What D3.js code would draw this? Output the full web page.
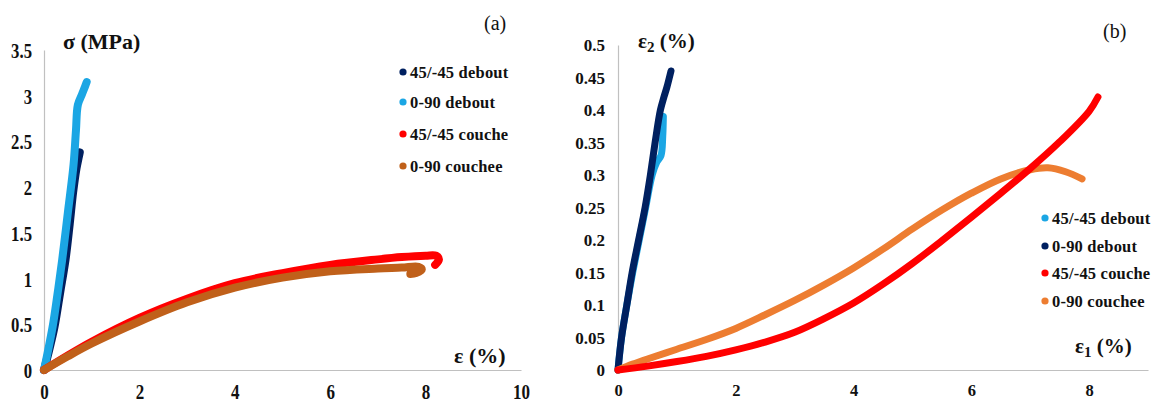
<!DOCTYPE html>
<html><head><meta charset="utf-8">
<script src="https://cdn.jsdelivr.net/npm/d3@7"></script>
<style>
body{margin:0;background:#fff;}
svg{display:block;}
text{font-family:"Liberation Serif","Times New Roman",serif;}
</style></head><body>
<svg id="c" width="1153" height="403"></svg>
<script>
// ---- data: panel (a) stress-strain ----
const aDebout4545 = [[0,0],[0.1,0.2],[0.22,0.47],[0.34,0.85],[0.45,1.2],[0.54,1.6],[0.61,1.94],[0.68,2.2],[0.73,2.33],[0.75,2.38]];
const aDebout090  = [[0,0],[0.08,0.2],[0.18,0.47],[0.28,0.82],[0.38,1.2],[0.5,1.72],[0.62,2.25],[0.67,2.62],[0.71,2.9],[0.8,3.02],[0.86,3.1],[0.895,3.15]];
const aCouche4545 = [[0,0],[0.5,0.16],[1,0.31],[2,0.57],[3,0.78],[4,0.95],[5,1.06],[6,1.15],[7,1.21],[7.5,1.235],[8,1.25],[8.22,1.25],[8.28,1.21],[8.2,1.15]];
const aCouchee090 = [[0,0],[0.5,0.15],[1,0.29],[2,0.53],[3,0.74],[4,0.9],[5,1.01],[6,1.08],[7,1.11],[7.5,1.12],[7.85,1.13],[7.92,1.1],[7.8,1.06],[7.68,1.05]];
// ---- data: panel (b) transverse vs axial strain ----
const bDebout4545 = [[0,0],[0.06,0.05],[0.15,0.1],[0.25,0.15],[0.36,0.2],[0.47,0.25],[0.58,0.3],[0.66,0.32],[0.73,0.33],[0.76,0.36],[0.77,0.39]];
const bDebout090  = [[0,0],[0.06,0.05],[0.15,0.1],[0.24,0.15],[0.35,0.2],[0.46,0.25],[0.55,0.3],[0.63,0.35],[0.72,0.4],[0.78,0.42],[0.83,0.435],[0.9,0.46]];
const bCouche4545 = [[0,0],[0.5,0.006],[1,0.013],[1.5,0.021],[2,0.031],[2.5,0.043],[3,0.058],[3.5,0.079],[4,0.103],[4.5,0.132],[5,0.164],[5.5,0.199],[6,0.235],[6.5,0.272],[7,0.31],[7.5,0.351],[8,0.398],[8.15,0.42]];
const bCouchee090 = [[0,0],[0.25,0.009],[0.5,0.017],[1,0.032],[1.5,0.047],[2,0.064],[2.5,0.085],[3,0.107],[3.5,0.131],[4,0.157],[4.5,0.186],[5,0.217],[5.5,0.246],[6,0.272],[6.5,0.294],[7,0.308],[7.3,0.311],[7.6,0.305],[7.88,0.294]];

const aXTicks = [0,2,4,6,8,10];
const aYTicks = [0,0.5,1,1.5,2,2.5,3,3.5];
const bXTicks = [0,2,4,6,8];
const bYTicks = [0,0.05,0.1,0.15,0.2,0.25,0.3,0.35,0.4,0.45,0.5];

const aNames = ["45/-45 debout","0-90 debout","45/-45 couche","0-90 couchee"];
const bNames = ["45/-45 debout","0-90 debout","45/-45 couche","0-90 couchee"];
const aColors = ["#002060","#1BA6E4","#FF0000","#C0601A"];
const bColors = ["#1BA6E4","#002060","#FF0000","#ED7D31"];

const FONT = "'Liberation Serif','Times New Roman',serif";
const svg = d3.select("#c");
const fmt = v => String(+v.toFixed(2));

function panel(o){
  const x = d3.scaleLinear().domain(o.xd).range(o.xr);
  const y = d3.scaleLinear().domain(o.yd).range(o.yr);
  const g = svg.append("g");
  const ax = g.append("g").attr("transform",`translate(0,${o.yr[0]})`)
    .call(d3.axisBottom(x).tickValues(o.xt).tickSize(0).tickFormat(fmt));
  const ay = g.append("g").attr("transform",`translate(${o.xr[0]},0)`)
    .call(d3.axisLeft(y).tickValues(o.yt).tickSize(0).tickFormat(fmt));
  [ax,ay].forEach(a=>{
    a.attr("font-family",FONT);
    a.select(".domain").attr("stroke","#c0c0c0").attr("stroke-width",1.2);
    a.selectAll("text").attr("font-family",FONT)
      .attr("font-weight","bold").attr("fill","#111");
  });
  ax.selectAll(".tick text").attr("font-size",o.xfs).attr("y",0).attr("dy",0)
    .attr("transform",`translate(0,${o.xty}) scale(${o.xsx},1)`);
  ay.selectAll(".tick text").each(function(){
    const t=d3.select(this);
    t.attr("x",0).attr("dy","0.34em").attr("font-size",o.yfs)
     .attr("transform",`translate(${-o.ypad},0) scale(${o.ysx},1)`);
  });
  const line = d3.line().x(d=>x(d[0])).y(d=>y(d[1])).curve(d3.curveCatmullRom.alpha(0.5));
  o.series.forEach(s=>{
    g.append("path").datum(s.data).attr("d",line).attr("fill","none")
      .attr("stroke",s.color).attr("stroke-width",o.sw)
      .attr("stroke-linecap","round").attr("stroke-linejoin","round");
  });
  o.legend.names.forEach((n,i)=>{
    const yy = o.legend.y[i];
    g.append("circle").attr("cx",o.legend.x).attr("cy",yy).attr("r",3.6).attr("fill",o.legend.colors[i]);
    g.append("text").attr("x",o.legend.x+7).attr("y",yy+5.5).attr("font-size",16.5)
      .attr("font-family",FONT).attr("font-weight","bold").attr("fill","#111")
      .attr("letter-spacing","0.2px").text(n);
  });
  return {x,y,g};
}

panel({
  xd:[0,10], xr:[44,521], yd:[0,3.5], yr:[370,50],
  xt:aXTicks, yt:aYTicks, xfs:20, xsx:0.85, xty:28.5, yfs:22, ysx:0.76, ypad:12,
  sw:8,
  series:[
    {data:aDebout4545,color:aColors[0]},
    {data:aDebout090,color:aColors[1]},
    {data:aCouche4545,color:aColors[2]},
    {data:aCouchee090,color:aColors[3]}],
  legend:{names:aNames,colors:aColors,x:403,y:[72,102,134,166]}
});

panel({
  xd:[0,9], xr:[618,1148], yd:[0,0.5], yr:[370,45],
  xt:bXTicks, yt:bYTicks, xfs:16.5, xsx:1, xty:26, yfs:17, ysx:1, ypad:13,
  sw:7,
  series:[
    {data:bDebout4545,color:bColors[0]},
    {data:bDebout090,color:bColors[1]},
    {data:bCouchee090,color:bColors[3]},
    {data:bCouche4545,color:bColors[2]}],
  legend:{names:bNames,colors:bColors,x:1045,y:[218,246,273,301]}
});

function lab(x,y,size,weight){
  return svg.append("text").attr("x",x).attr("y",y).attr("font-size",size)
    .attr("font-family",FONT).attr("font-weight",weight).attr("fill","#111");
}
lab(63,49,22,"bold").text("σ (MPa)");
lab(454,363,22,"bold").text("ε (%)");
lab(484,30,20,"normal").text("(a)");
const e2 = lab(638,48,21,"bold");
e2.append("tspan").text("ε");
e2.append("tspan").attr("font-size",15).attr("dy",4).text("2");
e2.append("tspan").attr("dy",-4).text(" (%)");
const e1 = lab(1075,353,21,"bold");
e1.append("tspan").text("ε");
e1.append("tspan").attr("font-size",15).attr("dy",4).text("1");
e1.append("tspan").attr("dy",-4).text(" (%)");
lab(1103,38,20,"normal").text("(b)");
</script>
</body></html>
